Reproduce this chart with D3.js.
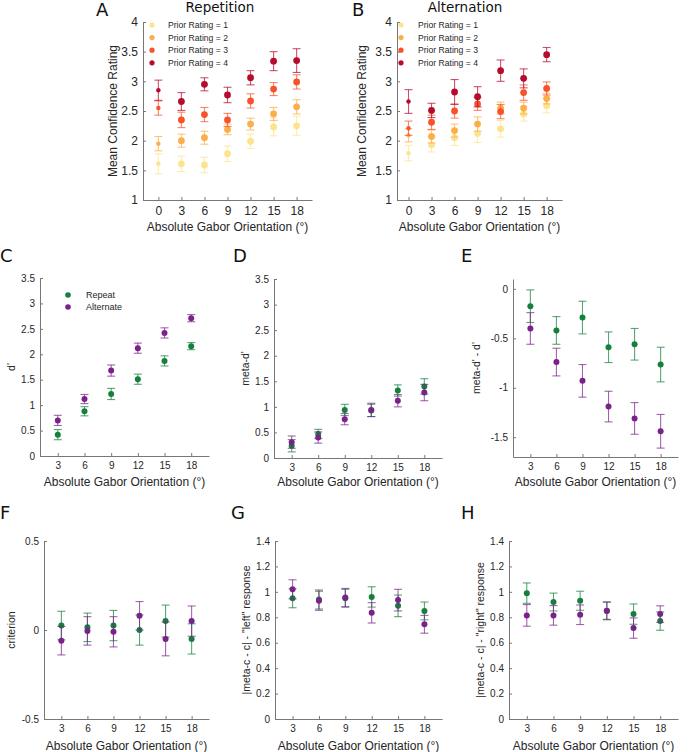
<!DOCTYPE html>
<html><head><meta charset="utf-8">
<script src="https://cdn.jsdelivr.net/npm/d3@7/dist/d3.min.js"></script>
<style>
body{margin:0;background:#fff;}
svg{display:block;font-family:"Liberation Sans",Arial,sans-serif;}
</style></head><body>
<svg id="c" width="700" height="752"></svg>
<script>
// ---------- DATA ----------
const orientTop = [0, 3, 6, 9, 12, 15, 18];
const orient = [3, 6, 9, 12, 15, 18];
const ratingLabels = ["Prior Rating = 1", "Prior Rating = 2", "Prior Rating = 3", "Prior Rating = 4"];
const groupLabels = ["Repeat", "Alternate"];

// Panel A: Repetition, mean confidence by prior rating
const repR1 = [1.61, 1.61, 1.59, 1.78, 1.99, 2.23, 2.25];
const repR1Err = [0.17, 0.13, 0.13, 0.13, 0.12, 0.15, 0.16];
const repR2 = [1.95, 2.00, 2.05, 2.19, 2.28, 2.45, 2.57];
const repR2Err = [0.12, 0.11, 0.11, 0.09, 0.10, 0.11, 0.12];
const repR3 = [2.55, 2.35, 2.44, 2.35, 2.67, 2.87, 2.99];
const repR3Err = [0.12, 0.13, 0.12, 0.11, 0.12, 0.11, 0.12];
const repR4 = [2.85, 2.66, 2.95, 2.77, 3.06, 3.34, 3.35];
const repR4Err = [0.17, 0.15, 0.11, 0.13, 0.12, 0.16, 0.20];

// Panel B: Alternation
const altR1 = [1.79, 1.93, 2.05, 2.12, 2.20, 2.45, 2.59];
const altR1Err = [0.13, 0.12, 0.13, 0.15, 0.14, 0.12, 0.12];
const altR2 = [2.09, 2.07, 2.17, 2.28, 2.55, 2.55, 2.71];
const altR2Err = [0.11, 0.11, 0.11, 0.12, 0.10, 0.10, 0.09];
const altR3 = [2.21, 2.31, 2.50, 2.62, 2.49, 2.81, 2.88];
const altR3Err = [0.12, 0.12, 0.12, 0.11, 0.12, 0.13, 0.11];
const altR4 = [2.66, 2.51, 2.82, 2.74, 3.18, 3.05, 3.45];
const altR4Err = [0.20, 0.12, 0.21, 0.17, 0.18, 0.16, 0.12];

// Panel C: d'
const dRep = [0.42, 0.88, 1.22, 1.51, 1.87, 2.16];
const dRepErr = [0.10, 0.09, 0.11, 0.10, 0.10, 0.07];
const dAlt = [0.70, 1.12, 1.68, 2.12, 2.42, 2.71];
const dAltErr = [0.10, 0.09, 0.11, 0.10, 0.10, 0.07];

// Panel D: meta-d'
const mdRep = [0.24, 0.47, 0.94, 0.93, 1.32, 1.40];
const mdRepErr = [0.12, 0.09, 0.11, 0.12, 0.11, 0.15];
const mdAlt = [0.31, 0.40, 0.76, 0.94, 1.12, 1.28];
const mdAltErr = [0.12, 0.11, 0.11, 0.13, 0.12, 0.16];

// Panel E: meta-d' - d'
const diffRep = [-0.175, -0.42, -0.29, -0.59, -0.56, -0.765];
const diffRepErr = [0.165, 0.14, 0.165, 0.155, 0.16, 0.175];
const diffAlt = [-0.40, -0.74, -0.93, -1.19, -1.31, -1.44];
const diffAltErr = [0.16, 0.14, 0.165, 0.155, 0.16, 0.17];

// Panel F: criterion
const critRep = [0.025, 0.015, 0.025, 0.0, 0.05, -0.05];
const critRepErr = [0.08, 0.08, 0.085, 0.085, 0.09, 0.085];
const critAlt = [-0.06, -0.005, -0.01, 0.08, -0.05, 0.05];
const critAltErr = [0.08, 0.08, 0.085, 0.08, 0.095, 0.085];

// Panel G: |meta-c - c| "left"
const leftRep = [0.95, 0.94, 0.95, 0.96, 0.89, 0.85];
const leftRepErr = [0.075, 0.075, 0.07, 0.08, 0.085, 0.07];
const leftAlt = [1.02, 0.93, 0.955, 0.835, 0.935, 0.745];
const leftAltErr = [0.075, 0.075, 0.072, 0.08, 0.085, 0.07];

// Panel H: |meta-c - c| "right"
const rightRep = [0.99, 0.92, 0.93, 0.85, 0.825, 0.77];
const rightRepErr = [0.08, 0.07, 0.075, 0.07, 0.08, 0.072];
const rightAlt = [0.815, 0.815, 0.82, 0.852, 0.715, 0.825];
const rightAltErr = [0.085, 0.077, 0.077, 0.068, 0.08, 0.065];

const ticksTopY = [1, 1.5, 2, 2.5, 3, 3.5, 4];
const ticksDY = [0, 0.5, 1, 1.5, 2, 2.5, 3, 3.5];
const ticksEY = [-1.5, -1, -0.5, 0];
const ticksFY = [-0.5, 0, 0.5];
const ticksGY = [0, 0.2, 0.4, 0.6, 0.8, 1, 1.2, 1.4];

// ---------- STYLE ----------
const ratingColors = ["#fde48c", "#fbae4a", "#f9512c", "#b80a2c"];
const groupColors = ["#14803c", "#7a2289"];
const axisColor = "#777";
const textColor = "#262626";
const xLabel = "Absolute Gabor Orientation (°)";

const svg = d3.select("#c");
const fmt = d => String(+d.toFixed(2));

function panel(cfg) {
  const g = svg.append("g");
  const x = d3.scaleLinear().domain(cfg.xd).range(cfg.xr);
  const y = d3.scaleLinear().domain(cfg.yd).range(cfg.yr);
  const fs = cfg.fs;
  const ax = g.append("g").attr("transform", `translate(0,${cfg.yr[0]})`)
    .call(d3.axisBottom(x).tickValues(cfg.xt).tickFormat(fmt).tickSizeInner(-3).tickSizeOuter(0).tickPadding(cfg.xpad));
  const ay = g.append("g").attr("transform", `translate(${cfg.xr[0]},0)`)
    .call(d3.axisLeft(y).tickValues(cfg.yt).tickFormat(fmt).tickSizeInner(-3).tickSizeOuter(0).tickPadding(5));
  [ax, ay].forEach(a => {
    a.select(".domain").attr("stroke", axisColor);
    a.selectAll(".tick line").attr("stroke", axisColor);
    a.selectAll(".tick text").attr("fill", textColor).style("font-size", fs + "px")
      .style("font-family", '"Liberation Sans",Arial,sans-serif');
  });
  // x label
  g.append("text").attr("x", (cfg.xr[0] + cfg.xr[1]) / 2 + (cfg.xlOff || 0)).attr("y", cfg.xlY)
    .attr("text-anchor", "middle").attr("fill", textColor).style("font-size", "12px").text(xLabel);
  // y label
  g.append("text").attr("transform", `translate(${cfg.ylX},${(cfg.yr[0] + cfg.yr[1]) / 2}) rotate(-90)`)
    .attr("text-anchor", "middle").attr("fill", textColor).style("font-size", cfg.ylfs + "px").text(cfg.yl);
  // series
  cfg.series.forEach(s => {
    const data = cfg.xs.map((xv, i) => ({ x: xv, m: s.m[i], e: s.e[i] }));
    const sg = g.append("g");
    const eb = sg.selectAll("g.eb").data(data).join("g").attr("class", "eb")
      .attr("stroke", s.c).attr("stroke-opacity", 0.7).attr("stroke-width", 1.1);
    eb.append("line").attr("x1", d => x(d.x)).attr("x2", d => x(d.x))
      .attr("y1", d => y(d.m - d.e)).attr("y2", d => y(d.m + d.e));
    [-1, 1].forEach(sg2 => {
      eb.append("line").attr("x1", d => x(d.x) - cfg.cap).attr("x2", d => x(d.x) + cfg.cap)
        .attr("y1", d => y(d.m + sg2 * d.e)).attr("y2", d => y(d.m + sg2 * d.e));
    });
    sg.selectAll("circle").data(data).join("circle")
      .attr("cx", d => x(d.x)).attr("cy", d => y(d.m))
      .attr("r", d => cfg.rFn(d.x)).attr("fill", s.c);
  });
  // legend
  if (cfg.legend) {
    const L = cfg.legend;
    L.labels.forEach((lab, i) => {
      g.append("circle").attr("cx", L.x).attr("cy", L.y + i * L.dy).attr("r", L.r).attr("fill", L.colors[i]);
      g.append("text").attr("x", L.tx).attr("y", L.y + i * L.dy + L.fs * 0.35).attr("fill", textColor)
        .style("font-size", L.fs + "px").text(lab);
    });
  }
}

const topR = xv => xv === 0 ? 2.2 : 3.4;
const lowR = () => 3;

// A
panel({
  xd: [-2, 20], xr: [143, 312], yd: [1, 4], yr: [200, 22], xs: orientTop, xt: orientTop, yt: ticksTopY,
  fs: 12, xpad: 6, xlY: 231, ylX: 117, yl: "Mean Confidence Rating", ylfs: 12, cap: 4, rFn: topR,
  series: [
    { m: repR1, e: repR1Err, c: ratingColors[0] },
    { m: repR2, e: repR2Err, c: ratingColors[1] },
    { m: repR3, e: repR3Err, c: ratingColors[2] },
    { m: repR4, e: repR4Err, c: ratingColors[3] }],
  legend: { labels: ratingLabels, colors: ratingColors, x: 152, tx: 168, y: 25, dy: 12.6, r: 2.6, fs: 8.6 }
});
// B
panel({
  xd: [-1.5, 20], xr: [397, 562], yd: [1, 4], yr: [200, 22], xs: orientTop, xt: orientTop, yt: ticksTopY,
  fs: 12, xpad: 6, xlY: 231, ylX: 366, yl: "Mean Confidence Rating", ylfs: 12, cap: 4, rFn: topR,
  series: [
    { m: altR1, e: altR1Err, c: ratingColors[0] },
    { m: altR2, e: altR2Err, c: ratingColors[1] },
    { m: altR3, e: altR3Err, c: ratingColors[2] },
    { m: altR4, e: altR4Err, c: ratingColors[3] }],
  legend: { labels: ratingLabels, colors: ratingColors, x: 401, tx: 418, y: 25, dy: 12.6, r: 2.6, fs: 8.6 }
});
// C
panel({
  xd: [1, 20], xr: [40, 209], yd: [0, 3.5], yr: [456, 278], xs: orient, xt: orient, yt: ticksDY,
  fs: 10, xpad: 6, xlY: 486, ylX: 15, yl: "d'", ylfs: 10.5, cap: 4, rFn: lowR,
  series: [
    { m: dRep, e: dRepErr, c: groupColors[0] },
    { m: dAlt, e: dAltErr, c: groupColors[1] }],
  legend: { labels: groupLabels, colors: groupColors, x: 68, tx: 86, y: 295, dy: 12, r: 2.8, fs: 9 }
});
// D
panel({
  xd: [1, 20], xr: [274, 442], yd: [0, 3.5], yr: [458, 279], xs: orient, xt: orient, yt: ticksDY,
  fs: 10, xpad: 6, xlY: 486, ylX: 249, yl: "meta-d'", ylfs: 10.5, cap: 4, rFn: lowR,
  series: [
    { m: mdRep, e: mdRepErr, c: groupColors[0] },
    { m: mdAlt, e: mdAltErr, c: groupColors[1] }]
});
// E
panel({
  xd: [1, 20], xr: [513, 678], yd: [-1.7, 0.1], yr: [457, 279], xs: orient, xt: orient, yt: ticksEY,
  fs: 10, xpad: 6, xlY: 486, ylX: 480, yl: "meta-d' - d'", ylfs: 10.5, cap: 4, rFn: lowR,
  series: [
    { m: diffRep, e: diffRepErr, c: groupColors[0] },
    { m: diffAlt, e: diffAltErr, c: groupColors[1] }]
});
// F
panel({
  xd: [1, 20], xr: [44, 209], yd: [-0.5, 0.5], yr: [719, 541], xs: orient, xt: orient, yt: ticksFY,
  fs: 10, xpad: 6, xlY: 750, ylX: 15, yl: "criterion", ylfs: 10.5, cap: 4, rFn: lowR,
  series: [
    { m: critRep, e: critRepErr, c: groupColors[0] },
    { m: critAlt, e: critAltErr, c: groupColors[1] }]
});
// G
panel({
  xd: [1, 20], xr: [275, 442], yd: [0, 1.4], yr: [719, 541], xs: orient, xt: orient, yt: ticksGY,
  fs: 10, xpad: 6, xlY: 750, ylX: 250, yl: '|meta-c - c| - "left" response', ylfs: 10.5, cap: 4, rFn: lowR,
  series: [
    { m: leftRep, e: leftRepErr, c: groupColors[0] },
    { m: leftAlt, e: leftAltErr, c: groupColors[1] }]
});
// H
panel({
  xd: [1, 20], xr: [509, 678], yd: [0, 1.4], yr: [719, 541], xs: orient, xt: orient, yt: ticksGY,
  fs: 10, xpad: 6, xlY: 750, ylX: 484, yl: '|meta-c - c| - "right" response', ylfs: 10.5, cap: 4, rFn: lowR,
  series: [
    { m: rightRep, e: rightRepErr, c: groupColors[0] },
    { m: rightAlt, e: rightAltErr, c: groupColors[1] }]
});

// Panel letters and titles
const letters = [["A", 96, 16], ["B", 352, 16], ["C", 0, 262], ["D", 233, 262], ["E", 461, 262],
                 ["F", 0, 519], ["G", 231, 519], ["H", 461, 519]];
svg.selectAll("text.letter").data(letters).join("text").attr("class", "letter")
  .attr("x", d => d[1]).attr("y", d => d[2]).attr("fill", "#111")
  .style("font-family", '"DejaVu Sans",sans-serif').style("font-size", "18px").text(d => d[0]);
const titles = [["Repetition", 220, 12], ["Alternation", 465, 12]];
svg.selectAll("text.title").data(titles).join("text").attr("class", "title")
  .attr("x", d => d[1]).attr("y", d => d[2]).attr("text-anchor", "middle").attr("fill", "#111")
  .style("font-family", '"DejaVu Sans",sans-serif').style("font-size", "13.5px").text(d => d[0]);
</script>
</body></html>
